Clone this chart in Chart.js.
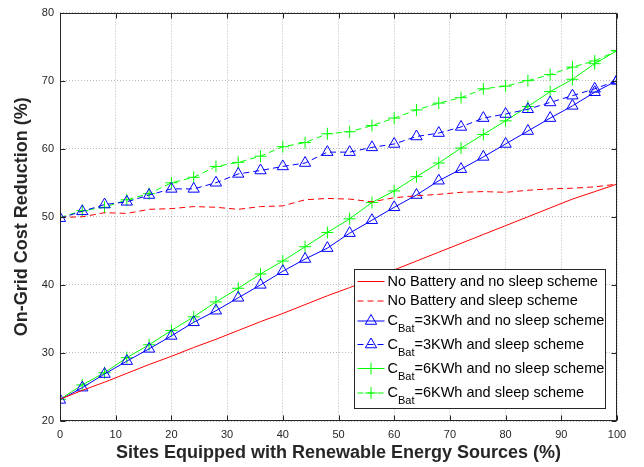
<!DOCTYPE html>
<html>
<head>
<meta charset="utf-8">
<script src="https://cdn.jsdelivr.net/npm/chart.js@4.4.1/dist/chart.umd.min.js"></script>
<style>
  html, body { margin: 0; padding: 0; background: #fff; }
  #wrap { width: 644px; height: 467px; }
</style>
</head>
<body>
<div id="wrap"><canvas id="myChart"></canvas></div>
<script>
// sites equipped with renewable energy sources (%)
let sites = [0, 4, 8, 12, 16, 20, 24, 28, 32, 36, 40, 44, 48, 52, 56, 60, 64, 68, 72, 76, 80, 84, 88, 92, 96, 100];

let noBatNoSleep = [23.2, 24.5, 25.7, 27.0, 28.3, 29.5, 30.8, 32.0, 33.3, 34.6, 35.8, 37.1, 38.4, 39.6, 40.9, 42.2, 43.5, 44.8, 46.1, 47.4, 48.7, 50.0, 51.3, 52.6, 53.7, 54.8];
let noBatSleep = [49.9, 50.0, 50.6, 50.5, 51.1, 51.2, 51.5, 51.4, 51.1, 51.5, 51.6, 52.5, 52.7, 52.6, 52.2, 52.8, 53.1, 53.3, 53.6, 53.7, 53.6, 53.9, 54.1, 54.2, 54.4, 54.8];
let bat3NoSleep = [23.1, 24.9, 26.9, 28.8, 30.6, 32.5, 34.5, 36.2, 38.1, 40.0, 42.0, 43.8, 45.4, 47.6, 49.5, 51.4, 53.2, 55.3, 57.0, 58.8, 60.7, 62.6, 64.5, 66.3, 68.3, 70.0];
let bat3Sleep = [49.8, 50.8, 51.8, 52.2, 53.2, 54.1, 54.1, 55.0, 56.3, 56.8, 57.4, 57.9, 59.5, 59.5, 60.2, 60.7, 61.8, 62.3, 63.2, 64.5, 65.1, 65.8, 66.8, 67.8, 68.8, 70.0];
let bat6NoSleep = [23.2, 25.3, 27.1, 29.3, 31.2, 33.3, 35.3, 37.5, 39.5, 41.6, 43.5, 45.6, 47.7, 49.7, 52.1, 53.8, 55.9, 57.9, 60.1, 62.1, 64.1, 66.2, 68.4, 70.2, 72.5, 74.4];
let bat6Sleep = [49.9, 50.9, 51.4, 52.5, 53.4, 55.0, 55.8, 57.4, 58.0, 58.9, 60.3, 60.9, 62.2, 62.5, 63.4, 64.5, 65.7, 66.7, 67.5, 68.8, 69.2, 70.0, 70.9, 72.0, 72.9, 74.4];

// legend entries: [before subscript, subscript, after subscript]
let legendText = [
    ['No Battery and no sleep scheme', '', ''],
    ['No Battery and sleep scheme', '', ''],
    ['C', 'Bat', '=3KWh and no sleep scheme'],
    ['C', 'Bat', '=3KWh and sleep scheme'],
    ['C', 'Bat', '=6KWh and no sleep scheme'],
    ['C', 'Bat', '=6KWh and sleep scheme']
];

const FONT = '"Liberation Sans", Arial, Helvetica, sans-serif';
const TXT = '#262626';

function pts(arr) {
    return sites.map((s, i) => ({ x: s, y: arr[i] }));
}

function series(arr, color, dashed, marker) {
    return {
        data: pts(arr),
        borderColor: color,
        backgroundColor: 'rgba(0,0,0,0)',
        borderWidth: 1,
        borderDash: dashed ? [6, 4] : [],
        pointStyle: marker || 'circle',
        pointRadius: marker ? (marker === 'triangle' ? 6.5 : 6) : 0,
        pointBorderColor: color,
        pointBackgroundColor: 'rgba(0,0,0,0)',
        pointBorderWidth: 1,
        tension: 0
    };
}

let datasets = [
    series(noBatNoSleep, '#ff0000', false, null),
    series(noBatSleep, '#ff0000', true, null),
    series(bat3NoSleep, '#0000ff', false, 'triangle'),
    series(bat3Sleep, '#0000ff', true, 'triangle'),
    series(bat6NoSleep, '#00ff00', false, 'cross'),
    series(bat6Sleep, '#00ff00', true, 'cross')
];

const matlabLook = {
    id: 'matlabLook',
    afterDraw(chart) {
        const ctx = chart.ctx;
        const a = chart.chartArea;
        const xs = chart.scales.x, ys = chart.scales.y;
        ctx.save();
        ctx.setLineDash([]);
        ctx.strokeStyle = TXT;
        ctx.lineWidth = 1;
        const L = Math.round(a.left) + 0.5, R = Math.round(a.right) - 0.5;
        const T = Math.round(a.top) + 0.5, B = Math.round(a.bottom) - 0.5;
        ctx.beginPath();
        xs.ticks.forEach(t => {
            const p = Math.round(xs.getPixelForValue(t.value)) + 0.5;
            ctx.moveTo(p, B); ctx.lineTo(p, B - 5);
            ctx.moveTo(p, T); ctx.lineTo(p, T + 5);
        });
        ys.ticks.forEach(t => {
            const p = Math.round(ys.getPixelForValue(t.value)) + 0.5;
            ctx.moveTo(L, p); ctx.lineTo(L + 5, p);
            ctx.moveTo(R, p); ctx.lineTo(R - 5, p);
        });
        ctx.stroke();
        ctx.strokeRect(L, T, R - L, B - T);

        // legend box in lower right corner
        const bw = 251, bh = 139;
        const bx = Math.round(a.right - 12 - bw) + 0.5;
        const by = Math.round(a.bottom - 13 - bh) + 0.5;
        ctx.fillStyle = '#fff';
        ctx.fillRect(bx, by, bw, bh);
        ctx.strokeStyle = TXT;
        ctx.strokeRect(bx, by, bw, bh);
        const rowY = [12, 31.5, 51.5, 75, 99, 123.5];
        chart.data.datasets.forEach((ds, i) => {
            const cy = by + rowY[i];
            ctx.strokeStyle = ds.borderColor;
            ctx.lineWidth = 1;
            ctx.setLineDash(ds.borderDash.length ? [6, 4] : []);
            ctx.beginPath();
            ctx.moveTo(bx + 3, cy);
            ctx.lineTo(bx + 30, cy);
            ctx.stroke();
            ctx.setLineDash([]);
            if (ds.pointRadius > 0) {
                ctx.fillStyle = 'rgba(0,0,0,0)';
                Chart.helpers.drawPoint(ctx, {
                    pointStyle: ds.pointStyle,
                    radius: ds.pointRadius,
                    rotation: 0,
                    borderWidth: 1
                }, bx + 16.5, cy);
            }
            const lt = legendText[i];
            ctx.fillStyle = '#000';
            ctx.textBaseline = 'middle';
            ctx.textAlign = 'left';
            ctx.font = '14.5px ' + FONT;
            let tx = bx + 33;
            ctx.fillText(lt[0], tx, cy);
            tx += ctx.measureText(lt[0]).width;
            if (lt[1]) {
                ctx.font = '11px ' + FONT;
                ctx.fillText(lt[1], tx, cy + 8);
                tx += ctx.measureText(lt[1]).width;
                ctx.font = '14.5px ' + FONT;
                ctx.fillText(lt[2], tx, cy);
            }
        });
        ctx.restore();
    }
};

let myChart = new Chart(document.getElementById('myChart').getContext('2d'), {
    type: 'line',
    data: { datasets: datasets },
    options: {
        responsive: true,
        maintainAspectRatio: false,
        animation: false,
        events: [],
        layout: { padding: { top: 12, right: 27, left: 0, bottom: 0 } },
        plugins: {
            legend: { display: false },
            tooltip: { enabled: false }
        },
        scales: {
            x: {
                type: 'linear',
                min: 0, max: 100,
                ticks: { stepSize: 10, color: TXT, padding: 7, maxRotation: 0, font: { family: FONT, size: 11 } },
                grid: { color: 'rgba(0,0,0,0.28)', drawTicks: false },
                border: { display: false, dash: [1, 2] },
                title: {
                    display: true,
                    text: 'Sites Equipped with Renewable Energy Sources (%)',
                    color: TXT,
                    font: { family: FONT, size: 18, weight: 'bold' },
                    padding: { top: 0, bottom: 3 }
                },
                afterFit(s) { s.height = 46; }
            },
            y: {
                min: 20, max: 80,
                ticks: { stepSize: 10, color: TXT, padding: 6, font: { family: FONT, size: 11 } },
                grid: { color: 'rgba(0,0,0,0.28)', drawTicks: false },
                border: { display: false, dash: [1, 2] },
                title: {
                    display: true,
                    text: 'On-Grid Cost Reduction (%)',
                    color: TXT,
                    font: { family: FONT, size: 18, weight: 'bold' },
                    padding: { top: 11, bottom: 0 }
                },
                afterFit(s) { s.width = 60; }
            }
        }
    },
    plugins: [matlabLook]
});
</script>
</body>
</html>
